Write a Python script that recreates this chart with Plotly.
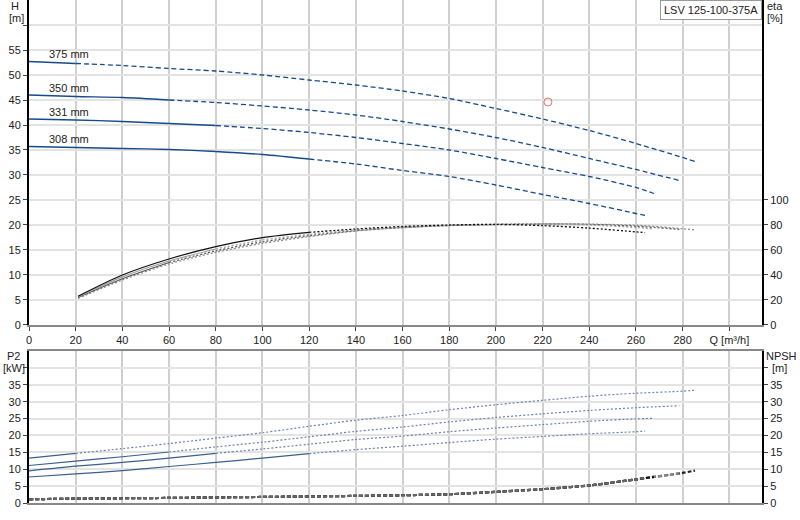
import plotly.graph_objects as go

# ---------------- data ----------------
diam_labels = ["375 mm", "350 mm", "331 mm", "308 mm"]

# Head curves H [m] vs Q [m3/h]
q_h375 = [0, 20, 40, 60, 80, 100, 120, 140, 160, 180, 200, 220, 240, 260, 280, 285.3]
h375 = [52.7, 52.3, 51.9, 51.3, 50.8, 50.0, 49.0, 48.0, 46.8, 45.3, 43.3, 41.2, 38.9, 36.3, 33.5, 32.7]
q_h350 = [0, 20, 40, 60, 80, 100, 120, 140, 160, 180, 200, 220, 240, 260, 278.6]
h350 = [46.0, 45.7, 45.5, 45.0, 44.5, 43.8, 43.0, 42.0, 40.7, 39.2, 37.5, 35.5, 33.3, 31.1, 28.9]
q_h331 = [0, 20, 40, 60, 80, 100, 120, 140, 160, 180, 200, 220, 240, 260, 267.7]
h331 = [41.2, 41.0, 40.7, 40.3, 39.9, 39.3, 38.5, 37.5, 36.3, 35.0, 33.3, 31.5, 29.7, 27.5, 26.3]
q_h308 = [0, 20, 40, 60, 80, 100, 120, 140, 160, 180, 200, 220, 240, 260, 263.9]
h308 = [35.7, 35.5, 35.3, 35.1, 34.7, 34.1, 33.2, 32.2, 30.9, 29.7, 28.0, 26.1, 24.3, 22.3, 21.9]
solid_end = [20, 60, 80, 120]

# Efficiency eta [%]
q_e375 = [21, 40, 60, 80, 100, 120, 140, 160, 180, 200, 220, 240, 260, 280, 285.3]
eta375 = [21.3, 36.0, 48.8, 58.1, 65.3, 70.7, 75.2, 77.8, 79.5, 80.3, 80.8, 80.7, 79.8, 77.0, 76.0]
q_e350 = [21, 40, 60, 80, 100, 120, 140, 160, 180, 200, 220, 240, 260, 278.6]
eta350 = [22.0, 37.0, 50.0, 59.3, 66.5, 71.5, 75.5, 78.0, 79.6, 80.4, 80.8, 80.5, 79.0, 76.5]
q_e331 = [21, 40, 60, 80, 100, 120, 140, 160, 180, 200, 220, 240, 260, 267.7]
eta331 = [22.5, 38.5, 51.2, 60.8, 68.0, 72.5, 76.0, 78.3, 79.8, 80.5, 80.8, 80.0, 78.0, 76.8]
q_e308 = [21, 40, 60, 80, 100, 120, 140, 160, 180, 200, 220, 240, 260, 263.9]
eta308 = [23.0, 40.0, 52.8, 62.7, 69.9, 74.1, 76.8, 78.8, 80.0, 80.5, 79.5, 77.5, 74.5, 73.9]

# Shaft power P2 [kW]
p2_375 = [13.3, 14.7, 16.1, 17.6, 19.2, 20.8, 22.7, 24.5, 25.9, 27.6, 29.1, 30.4, 31.6, 32.5, 33.1, 33.4]
p2_350 = [11.1, 12.4, 13.7, 15.1, 16.6, 18.0, 19.6, 21.2, 22.5, 24.0, 25.3, 26.4, 27.4, 28.2, 28.8]
p2_331 = [9.5, 10.9, 12.0, 13.3, 14.7, 16.0, 17.4, 18.8, 19.8, 21.1, 22.2, 23.2, 24.2, 24.9, 25.1]
p2_308 = [7.7, 8.6, 9.6, 10.8, 12.0, 13.3, 14.6, 15.8, 16.8, 17.9, 18.9, 19.7, 20.5, 21.1, 21.3]

# NPSH [m]
q_npsh = [0, 20, 60, 100, 140, 160, 180, 200, 220, 240, 260, 280, 285.3]
npsh = [1.1, 1.3, 1.5, 1.8, 2.1, 2.3, 2.6, 3.3, 4.1, 5.2, 7.0, 8.9, 9.6]
npsh_end_q = [285.3, 278.6, 267.7, 263.9]

point_q = [222.3]
point_h = [44.6]

x_ticks = list(range(0, 301, 20))
x_ticktext = [str(v) for v in range(0, 281, 20)] + ["Q [m³/h]"]

# ---------------- figure ----------------
BLUE = "#174a8b"
fig = go.Figure()


def split(q, v, qcut):
    idxs = [i for i, a in enumerate(q) if a <= qcut]
    if not idxs:
        return [], [], list(q), list(v)
    idx = max(idxs)
    return list(q[:idx + 1]), list(v[:idx + 1]), list(q[idx:]), list(v[idx:])


def add(x, y, xa, ya, color, width, dash=None):
    if not x:
        return
    ln = dict(color=color, width=width, shape="spline", smoothing=0.8)
    if dash:
        ln["dash"] = dash
    fig.add_trace(go.Scatter(x=x, y=y, mode="lines", line=ln, xaxis=xa, yaxis=ya,
                             showlegend=False, hoverinfo="skip"))


h_sets = [(q_h375, h375), (q_h350, h350), (q_h331, h331), (q_h308, h308)]
for (q, h), cut in zip(h_sets, solid_end):
    qs, hs, qd, hd = split(q, h, cut)
    add(qs, hs, "x", "y", BLUE, 1.3)
    add(qd, hd, "x", "y", BLUE, 1.3, "5px,3px")

eta_sets = [(q_e375, eta375), (q_e350, eta350), (q_e331, eta331), (q_e308, eta308)]
eta_cols = ["#8a8a8a", "#555555", "#a0a0a0", "#111111"]
for (q, e), cut, col in zip(eta_sets, solid_end, eta_cols):
    qs, ys, qd, yd = split(q, e, cut)
    add(qs, ys, "x", "y2", col, 1.2)
    add(qd, yd, "x", "y2", col, 1.3, "2px,2px")

fig.add_trace(go.Scatter(x=point_q, y=point_h, mode="markers",
                         marker=dict(symbol="circle-open", size=8, color="#f07070", line=dict(width=1)),
                         xaxis="x", yaxis="y", showlegend=False, hoverinfo="skip"))

p2_sets = [(q_h375, p2_375), (q_h350, p2_350), (q_h331, p2_331), (q_h308, p2_308)]
for (q, p), cut in zip(p2_sets, solid_end):
    qs, ys, qd, yd = split(q, p, cut)
    add(qs, ys, "x2", "y3", "#3a5f8f", 1.2)
    add(qd, yd, "x2", "y3", "#6a84a8", 1.2, "2px,2px")

npsh_cols = ["#222222", "#888888", "#111111", "#666666"]
for qe, col in zip(npsh_end_q, npsh_cols):
    q = [v for v in q_npsh if v < qe]
    y = npsh[:len(q)]
    if len(q) < len(q_npsh):
        nxt = len(q)
        ye = y[-1] + (npsh[nxt] - y[-1]) * (qe - q[-1]) / (q_npsh[nxt] - q[-1])
        q = q + [qe]
        y = y + [ye]
    else:
        q = list(q_npsh)
        y = list(npsh)
    add(q, y, "x2", "y4", col, 2.2, "4px,2px")

# labels of impeller diameters
lab_h = [54.2, 47.5, 42.7, 37.2]
for t, yh in zip(diam_labels, lab_h):
    fig.add_annotation(x=7.5, y=yh, xref="x", yref="y", text=t, showarrow=False,
                       xanchor="left", yanchor="middle", font=dict(size=11, color="#222"))

FONT = dict(family="Liberation Sans, Arial, sans-serif", size=11, color="#222")
VGRID = "#cfcfcf"
HGRID = "#e3e3e3"

ytop_ticks = list(range(0, 61, 5))
ytop_text = [str(v) for v in range(0, 56, 5)] + [""]
ybot_ticks = list(range(0, 41, 5))
ybot_text = [str(v) for v in range(0, 36, 5)] + [""]

fig.update_layout(
    width=800, height=520,
    margin=dict(l=29, r=38, t=0, b=17, autoexpand=False),
    paper_bgcolor="white", plot_bgcolor="white",
    font=FONT,
    xaxis=dict(domain=[0, 1], range=[0, 314], tickvals=x_ticks, ticktext=x_ticktext,
               showgrid=True, gridcolor=VGRID, gridwidth=1.5, zeroline=False,
               showline=True, linecolor="#888", linewidth=2, mirror=True, automargin=False,
               ticks="outside", ticklen=4, tickcolor="#444", anchor="y"),
    yaxis=dict(domain=[0.3539, 1], range=[0, 65], tickvals=ytop_ticks, ticktext=ytop_text,
               showgrid=True, gridcolor=HGRID, gridwidth=2, zeroline=False, automargin=False,
               showline=True, linecolor="#000", linewidth=2,
               ticks="outside", ticklen=4, tickcolor="#444", anchor="x"),
    yaxis2=dict(overlaying="y", side="right", range=[0, 260], tickvals=list(range(0, 101, 20)),
                showgrid=False, zeroline=False, showline=True, linecolor="#000", linewidth=2,
                automargin=False, ticks="outside", ticklen=4, tickcolor="#444", anchor="x"),
    xaxis2=dict(domain=[0, 1], range=[0, 314], tickvals=x_ticks, showticklabels=False,
                showgrid=True, gridcolor=VGRID, gridwidth=1.5, zeroline=False, automargin=False,
                showline=True, linecolor="#888", linewidth=2, mirror=True, anchor="y3"),
    yaxis3=dict(domain=[0, 0.3022], range=[0, 45], tickvals=ybot_ticks, ticktext=ybot_text,
                showgrid=True, gridcolor=HGRID, gridwidth=2, zeroline=False, automargin=False,
                showline=True, linecolor="#000", linewidth=2,
                ticks="outside", ticklen=4, tickcolor="#444", anchor="x2"),
    yaxis4=dict(overlaying="y3", side="right", range=[0, 45], tickvals=ybot_ticks, ticktext=ybot_text,
                showgrid=False, zeroline=False, showline=True, linecolor="#000", linewidth=2,
                automargin=False, ticks="outside", ticklen=4, tickcolor="#444", anchor="x2"),
)


def ptxt(x, y, t, anchor="center"):
    fig.add_annotation(x=x, y=y, xref="paper", yref="paper", text=t, showarrow=False,
                       xanchor=anchor, yanchor="middle", font=dict(size=11, color="#222"))


W, H0 = 733.0, 503.0
def px(xp): return (xp - 29) / W
def py(yp): return (503 - yp) / H0


ptxt(px(15), py(6), "H")
ptxt(px(16), py(18), "[m]")
ptxt(px(775), py(6), "eta")
ptxt(px(775), py(18), "[%]")
ptxt(px(14), py(356), "P2")
ptxt(px(14), py(368), "[kW]")
ptxt(px(781), py(356), "NPSH")
ptxt(px(779), py(368), "[m]")

fig.add_annotation(x=1, y=1, xref="paper", yref="paper", text="LSV 125-100-375A", showarrow=False,
                   xanchor="right", yanchor="top", bordercolor="#999", borderwidth=1, borderpad=3,
                   bgcolor="white", font=dict(size=11, color="#222"))

fig.write_html("out.html", config={"displayModeBar": False},
               post_script="document.body.style.margin='0px';")
